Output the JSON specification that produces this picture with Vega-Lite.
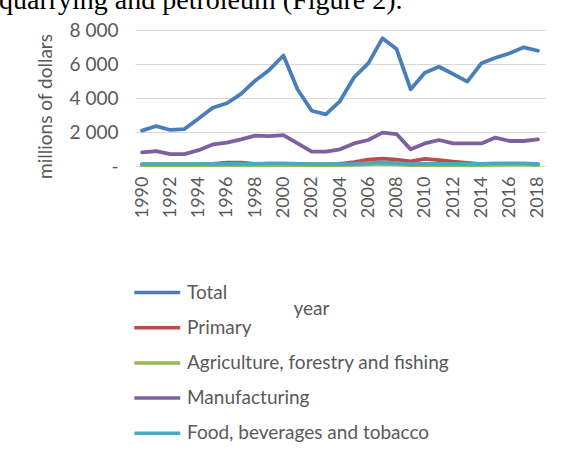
{
  "$schema": "https://vega.github.io/schema/vega-lite/v6.json",
  "autosize": {"type": "none"},
  "width": 410,
  "height": 136,
  "padding": {"left": 135, "top": 30, "right": 21, "bottom": 291},
  "background": "white",
  "title": {
    "text": "quarrying and petroleum (Figure 2).",
    "font": "Liberation Serif",
    "fontSize": 28,
    "fontWeight": "normal",
    "color": "#000000",
    "anchor": "start",
    "frame": "group",
    "baseline": "alphabetic",
    "offset": 0,
    "dx": -136,
    "dy": 16
  },
  "data": {
    "values": [
      {"year": 1990, "Total": 2080, "Primary": 100, "Agriculture, forestry and fishing": 50, "Manufacturing": 800, "Food, beverages and tobacco": 110},
      {"year": 1991, "Total": 2350, "Primary": 100, "Agriculture, forestry and fishing": 50, "Manufacturing": 870, "Food, beverages and tobacco": 110},
      {"year": 1992, "Total": 2120, "Primary": 90, "Agriculture, forestry and fishing": 50, "Manufacturing": 700, "Food, beverages and tobacco": 110},
      {"year": 1993, "Total": 2170, "Primary": 90, "Agriculture, forestry and fishing": 50, "Manufacturing": 700, "Food, beverages and tobacco": 110},
      {"year": 1994, "Total": 2800, "Primary": 100, "Agriculture, forestry and fishing": 50, "Manufacturing": 930, "Food, beverages and tobacco": 110},
      {"year": 1995, "Total": 3430, "Primary": 120, "Agriculture, forestry and fishing": 50, "Manufacturing": 1270, "Food, beverages and tobacco": 120},
      {"year": 1996, "Total": 3690, "Primary": 200, "Agriculture, forestry and fishing": 50, "Manufacturing": 1370, "Food, beverages and tobacco": 120},
      {"year": 1997, "Total": 4240, "Primary": 190, "Agriculture, forestry and fishing": 50, "Manufacturing": 1570, "Food, beverages and tobacco": 120},
      {"year": 1998, "Total": 5020, "Primary": 130, "Agriculture, forestry and fishing": 50, "Manufacturing": 1790, "Food, beverages and tobacco": 120},
      {"year": 1999, "Total": 5650, "Primary": 120, "Agriculture, forestry and fishing": 60, "Manufacturing": 1760, "Food, beverages and tobacco": 160},
      {"year": 2000, "Total": 6500, "Primary": 130, "Agriculture, forestry and fishing": 60, "Manufacturing": 1820, "Food, beverages and tobacco": 160},
      {"year": 2001, "Total": 4500, "Primary": 120, "Agriculture, forestry and fishing": 50, "Manufacturing": 1330, "Food, beverages and tobacco": 130},
      {"year": 2002, "Total": 3250, "Primary": 100, "Agriculture, forestry and fishing": 50, "Manufacturing": 840, "Food, beverages and tobacco": 110},
      {"year": 2003, "Total": 3040, "Primary": 100, "Agriculture, forestry and fishing": 50, "Manufacturing": 840, "Food, beverages and tobacco": 110},
      {"year": 2004, "Total": 3820, "Primary": 120, "Agriculture, forestry and fishing": 50, "Manufacturing": 980, "Food, beverages and tobacco": 110},
      {"year": 2005, "Total": 5220, "Primary": 230, "Agriculture, forestry and fishing": 70, "Manufacturing": 1330, "Food, beverages and tobacco": 130},
      {"year": 2006, "Total": 6040, "Primary": 370, "Agriculture, forestry and fishing": 90, "Manufacturing": 1530, "Food, beverages and tobacco": 170},
      {"year": 2007, "Total": 7510, "Primary": 430, "Agriculture, forestry and fishing": 120, "Manufacturing": 1960, "Food, beverages and tobacco": 220},
      {"year": 2008, "Total": 6880, "Primary": 380, "Agriculture, forestry and fishing": 100, "Manufacturing": 1880, "Food, beverages and tobacco": 170},
      {"year": 2009, "Total": 4510, "Primary": 270, "Agriculture, forestry and fishing": 60, "Manufacturing": 980, "Food, beverages and tobacco": 110},
      {"year": 2010, "Total": 5490, "Primary": 420, "Agriculture, forestry and fishing": 60, "Manufacturing": 1330, "Food, beverages and tobacco": 120},
      {"year": 2011, "Total": 5840, "Primary": 350, "Agriculture, forestry and fishing": 60, "Manufacturing": 1530, "Food, beverages and tobacco": 120},
      {"year": 2012, "Total": 5410, "Primary": 250, "Agriculture, forestry and fishing": 60, "Manufacturing": 1330, "Food, beverages and tobacco": 120},
      {"year": 2013, "Total": 4960, "Primary": 180, "Agriculture, forestry and fishing": 60, "Manufacturing": 1330, "Food, beverages and tobacco": 120},
      {"year": 2014, "Total": 6040, "Primary": 110, "Agriculture, forestry and fishing": 60, "Manufacturing": 1330, "Food, beverages and tobacco": 120},
      {"year": 2015, "Total": 6370, "Primary": 130, "Agriculture, forestry and fishing": 70, "Manufacturing": 1670, "Food, beverages and tobacco": 150},
      {"year": 2016, "Total": 6630, "Primary": 130, "Agriculture, forestry and fishing": 80, "Manufacturing": 1470, "Food, beverages and tobacco": 150},
      {"year": 2017, "Total": 6980, "Primary": 130, "Agriculture, forestry and fishing": 80, "Manufacturing": 1470, "Food, beverages and tobacco": 160},
      {"year": 2018, "Total": 6780, "Primary": 100, "Agriculture, forestry and fishing": 60, "Manufacturing": 1570, "Food, beverages and tobacco": 110}
    ]
  },
  "transform": [
    {"fold": ["Total", "Primary", "Agriculture, forestry and fishing", "Manufacturing", "Food, beverages and tobacco"], "as": ["series", "value"]}
  ],
  "mark": {"type": "line", "strokeWidth": 3.8, "strokeJoin": "round", "strokeCap": "round"},
  "encoding": {
    "x": {
      "field": "year",
      "type": "ordinal",
      "scale": {"type": "point", "padding": 0.5},
      "axis": {
        "title": "year",
        "titleX": 176,
        "titleY": 142,
        "titleAlign": "center",
        "titleBaseline": "middle",
        "titleFont": "Lato",
        "titleFontSize": 19,
        "titleFontWeight": "normal",
        "titleColor": "#595959",
        "values": [1990, 1992, 1994, 1996, 1998, 2000, 2002, 2004, 2006, 2008, 2010, 2012, 2014, 2016, 2018],
        "labelAngle": -90,
        "labelAlign": "right",
        "labelBaseline": "middle",
        "labelPadding": 10,
        "labelFont": "Lato, sans-serif",
        "labelFontSize": 18,
        "labelFontWeight": "normal",
        "labelColor": "#595959",
        "ticks": false,
        "domain": false,
        "grid": false
      }
    },
    "y": {
      "field": "value",
      "type": "quantitative",
      "scale": {"domain": [0, 8000], "nice": false},
      "axis": {
        "title": "millions of dollars",
        "titleX": -90,
        "titleY": 76,
        "titleAngle": 270,
        "titleAlign": "center",
        "titleBaseline": "middle",
        "titleFont": "Lato",
        "titleFontSize": 19,
        "titleFontWeight": "normal",
        "titleColor": "#595959",
        "values": [0, 2000, 4000, 6000, 8000],
        "labelExpr": "datum.value == 0 ? '-' : replace(format(datum.value, ','), ',', ' ')",
        "labelFont": "Lato",
        "labelFontSize": 19,
        "labelColor": "#595959",
        "labelPadding": 17,
        "ticks": false,
        "domain": false,
        "grid": true,
        "gridColor": "#d9d9d9",
        "gridWidth": 1
      }
    },
    "color": {
      "field": "series",
      "type": "nominal",
      "sort": ["Total", "Primary", "Agriculture, forestry and fishing", "Manufacturing", "Food, beverages and tobacco"],
      "scale": {
        "domain": ["Total", "Primary", "Agriculture, forestry and fishing", "Manufacturing", "Food, beverages and tobacco"],
        "range": ["#4A7EBB", "#BE4B48", "#98B954", "#7D60A0", "#46AAC5"]
      },
      "legend": {
        "title": null,
        "orient": "none",
        "legendX": 30,
        "legendY": 253,
        "direction": "vertical",
        "padding": 0,
        "symbolType": "M-7,0H1",
        "symbolSize": 132,
        "symbolStrokeWidth": 3.5,
        "labelFont": "Lato",
        "labelFontSize": 19,
        "labelColor": "#595959",
        "labelOffset": 3,
        "rowPadding": 15.2,
        "labelLimit": 400
      }
    }
  },
  "config": {
    "font": "Lato",
    "view": {"stroke": null}
  }
}
